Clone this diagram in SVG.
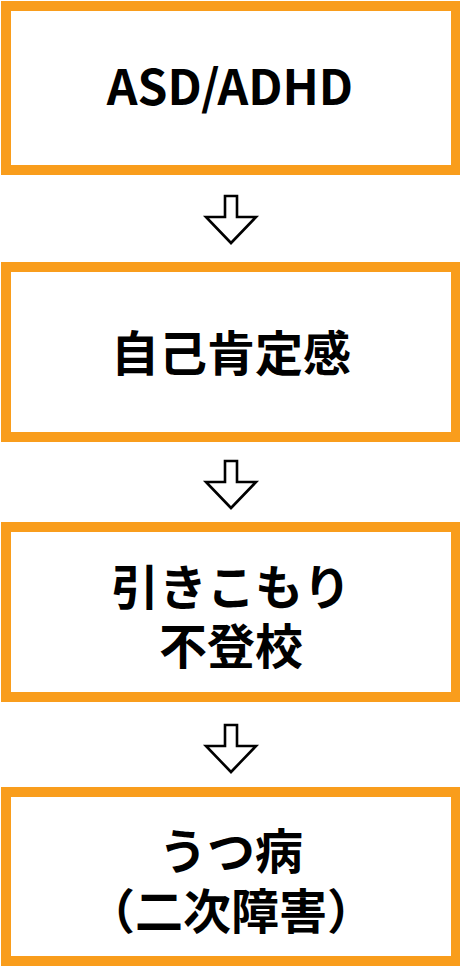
<svg xmlns="http://www.w3.org/2000/svg" width="460" height="974" viewBox="0 0 460 974">
<style>
.box{fill:#fff;stroke:#F99D1C;stroke-width:10}
.lbl{font-family:"Noto Sans CJK JP","Noto Sans",sans-serif;font-weight:bold;font-size:48px;fill:#000;text-anchor:middle;dominant-baseline:central}
.arr{fill:#fff;stroke:#000;stroke-width:2.6;stroke-linejoin:miter}
</style>
<defs>
<polygon id="arrow" class="arr" points="225,0 237,0 237,21 256,21 231,47 206,21 225,21"/>
</defs>
<rect width="460" height="974" fill="#fff"/>
<g id="n1">
<rect class="box" x="6" y="6" width="450" height="164"/>
<text class="lbl" x="230" y="84">ASD/ADHD</text>
</g>
<g id="n2">
<rect class="box" x="6" y="267" width="450" height="170"/>
<text class="lbl" x="231" y="350">自己肯定感</text>
</g>
<g id="n3">
<rect class="box" x="6" y="527" width="450" height="170"/>
<text class="lbl" x="231" y="584">引きこもり</text>
<text class="lbl" x="231" y="643">不登校</text>
</g>
<g id="n4">
<rect class="box" x="6" y="792" width="450" height="169"/>
<text class="lbl" x="231" y="848">うつ病</text>
<text class="lbl" x="231" y="908">（二次障害）</text>
</g>
<g id="connectors">
<use href="#arrow" y="196"/>
<use href="#arrow" y="461"/>
<use href="#arrow" y="725"/>
</g>
</svg>
